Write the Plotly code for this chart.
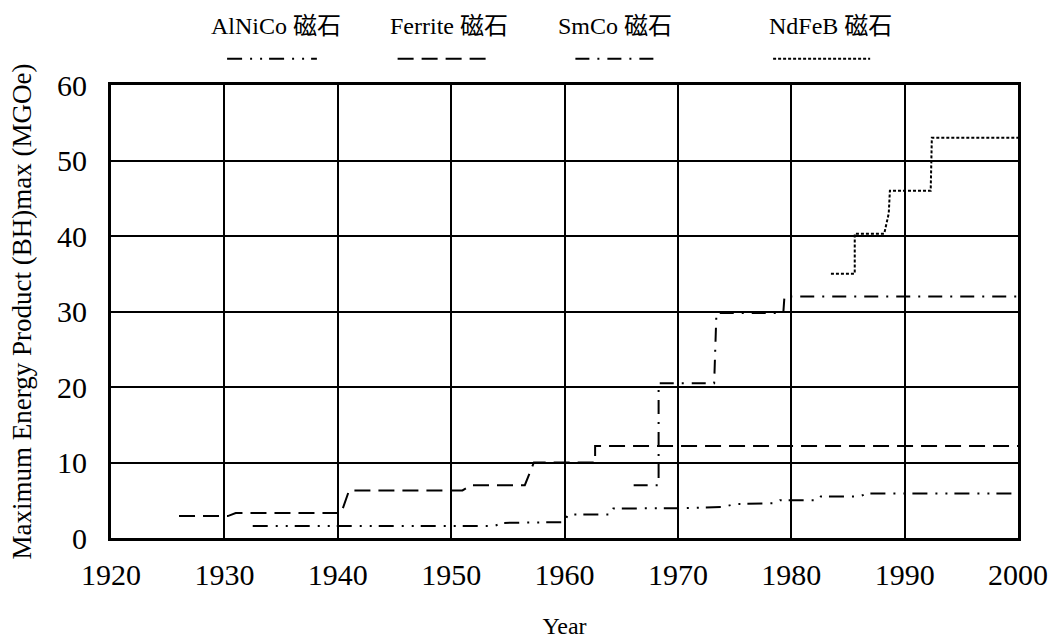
import plotly.graph_objects as go

# ---- data ----
alnico_year = [1932.5, 1953.8, 1954.6, 1960.0, 1960.3, 1964.0, 1964.3, 1970.0, 1974.0, 1975.0, 1978.5, 1979.0, 1982.3, 1982.6, 1986.0, 1986.7, 2000.0]
alnico_bh = [1.6, 1.6, 2.0, 2.1, 3.1, 3.1, 3.9, 3.95, 4.1, 4.5, 4.6, 5.0, 5.0, 5.5, 5.5, 5.9, 5.9]

ferrite_year = [1926.0, 1930.3, 1931.0, 1940.3, 1941.0, 1951.0, 1951.8, 1956.5, 1957.3, 1962.7, 1962.7, 2000.0]
ferrite_bh = [2.9, 2.9, 3.3, 3.3, 6.3, 6.3, 7.0, 7.0, 10.0, 10.0, 12.2, 12.2]

smco_year = [1966.1, 1968.3, 1968.3, 1973.2, 1973.4, 1979.3, 1979.4, 2000.0]
smco_bh = [7.0, 7.0, 20.5, 20.5, 29.8, 29.8, 32.0, 32.0]

ndfeb_year = [1983.5, 1985.6, 1985.6, 1988.2, 1988.6, 1988.7, 1992.3, 1992.4, 2000.0]
ndfeb_bh = [35.0, 35.0, 40.3, 40.3, 43.0, 46.0, 46.0, 53.0, 53.0]

series_names = ["AlNiCo 磁石", "Ferrite 磁石", "SmCo 磁石", "NdFeB 磁石"]
x_tick_vals = [1920, 1930, 1940, 1950, 1960, 1970, 1980, 1990, 2000]
y_tick_vals = [0, 10, 20, 30, 40, 50, 60]

x_title = "Year"
y_title = "Maximum Energy Product (BH)max (MGOe)"

# ---- styles ----
SERIF = "Liberation Serif, Times New Roman, Noto Sans CJK JP, serif"
dash_styles = [
    "15px,8px,2px,8px,2px,7px",
    "16px,8px",
    "14px,8px,2px,8px",
    "3px,2px",
]
line_widths = [2, 2, 2, 2]

series = [
    (alnico_year, alnico_bh),
    (ferrite_year, ferrite_bh),
    (smco_year, smco_bh),
    (ndfeb_year, ndfeb_bh),
]

fig = go.Figure()
for (xs, ys), name, dash, lw in zip(series, series_names, dash_styles, line_widths):
    fig.add_trace(go.Scatter(
        x=xs, y=ys, mode="lines", name=name,
        line=dict(color="black", width=lw, dash=dash),
        showlegend=False, hoverinfo="x+y+name",
    ))

# ---- custom legend: text above a line sample ----
legend_text_x = [0.182, 0.373, 0.556, 0.793]
legend_line_x = [(0.128, 0.227), (0.316, 0.416), (0.512, 0.605), (0.730, 0.837)]
for name, tx, (x0, x1), dash, lw in zip(series_names, legend_text_x, legend_line_x, dash_styles, line_widths):
    fig.add_annotation(
        x=tx, y=1.13, xref="paper", yref="paper", text=name, showarrow=False,
        xanchor="center", yanchor="middle",
        font=dict(family=SERIF, size=24, color="black"),
    )
    fig.add_shape(
        type="line", xref="paper", yref="paper", x0=x0, x1=x1, y0=1.058, y1=1.058,
        line=dict(color="black", width=lw, dash=dash),
    )

fig.update_layout(
    width=1056, height=639,
    margin=dict(l=111, r=38, t=85, b=101),
    paper_bgcolor="white", plot_bgcolor="white",
    font=dict(family=SERIF, color="black"),
)
fig.update_xaxes(
    range=[1920, 2000], tickvals=x_tick_vals, ticktext=[str(v) for v in x_tick_vals],
    showgrid=True, gridcolor="black", gridwidth=2,
    showline=True, linecolor="black", linewidth=3, mirror=True,
    zeroline=False, ticks="", ticklabelstandoff=8, automargin=False,
    tickfont=dict(family=SERIF, size=30, color="black"),
    title=dict(text=x_title, font=dict(family=SERIF, size=24, color="black"), standoff=40),
)
fig.update_yaxes(
    range=[0, 60], tickvals=y_tick_vals,
    showgrid=True, gridcolor="black", gridwidth=2,
    showline=True, linecolor="black", linewidth=3, mirror=True,
    zeroline=False, ticks="", ticklabelstandoff=15, automargin=False,
    tickfont=dict(family=SERIF, size=30, color="black"),
    title=dict(text=y_title, font=dict(family=SERIF, size=27, color="black"), standoff=18),
)

# remove the page's default 8px body margin so the figure fills the window
fig.write_html(
    "out.html",
    config={"displayModeBar": False},
    post_script="document.body.style.margin='0';",
)
